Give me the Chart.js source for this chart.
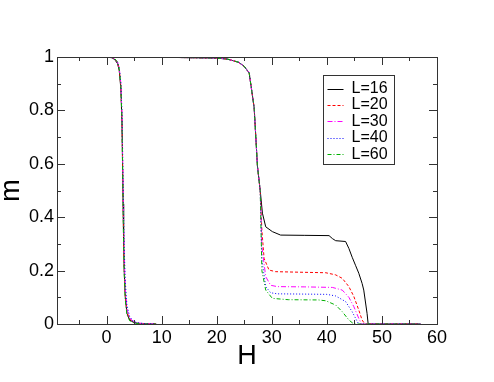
<!DOCTYPE html>
<html lang="en">
<head>
<meta charset="utf-8">
<title>m vs H</title>
<script src="https://cdn.jsdelivr.net/npm/chart.js@4.4.1/dist/chart.umd.min.js"></script>
<style>
body { margin: 0; background: #fff; }
</style>
</head>
<body>
<canvas id="chart" width="494" height="382"></canvas>
<script>
// ticks
const xTickValues = [0, 10, 20, 30, 40, 50, 60];
const xMinorValues = [-5, 5, 15, 25, 35, 45, 55];
const yTickValues = [0, 0.2, 0.4, 0.6, 0.8, 1];
const yMinorValues = [0.1, 0.3, 0.5, 0.7, 0.9];

// first drop (near H = 3)
const hDrop = [0, 1, 1.5, 2, 2.3, 2.6, 2.8, 2.9, 3.0, 3.1, 3.2, 3.4, 3.7, 4.2, 5, 6, 7.5, 9];
const mDrop16 = [1, 0.997, 0.99, 0.975, 0.95, 0.88, 0.75, 0.6, 0.45, 0.3, 0.2, 0.1, 0.04, 0.015, 0.005, 0.002, 0, 0];
const mDrop20 = [1, 0.998, 0.992, 0.978, 0.955, 0.89, 0.76, 0.62, 0.47, 0.32, 0.21, 0.11, 0.045, 0.018, 0.006, 0.002, 0.001, 0];
const mDrop30 = [1, 0.998, 0.993, 0.98, 0.96, 0.9, 0.78, 0.65, 0.5, 0.36, 0.25, 0.13, 0.055, 0.022, 0.007, 0.003, 0.001, 0];
const mDrop40 = [1, 0.998, 0.993, 0.98, 0.96, 0.9, 0.79, 0.67, 0.53, 0.4, 0.29, 0.16, 0.07, 0.027, 0.008, 0.003, 0.001, 0];
const mDrop60 = [1, 0.999, 0.994, 0.98, 0.955, 0.89, 0.76, 0.6, 0.44, 0.29, 0.19, 0.09, 0.035, 0.012, 0.004, 0.001, 0, 0];

// second branch (drop near H = 27, plateau, drop near H = 45)
const h16 = [0.5, 10, 20, 22, 24, 25, 25.9, 26.8, 27.4, 27.9, 28.3, 28.9, 30.1, 31.6, 36, 40.4, 41, 41.6, 43.4, 44, 44.6, 45.2, 45.8, 46.4, 46.7, 47.3, 47.5, 57];
const m16 = [1, 0.999, 0.996, 0.992, 0.98, 0.965, 0.94, 0.81, 0.59, 0.5, 0.415, 0.364, 0.346, 0.333, 0.332, 0.331, 0.32, 0.312, 0.309, 0.283, 0.25, 0.22, 0.19, 0.152, 0.127, 0.04, 0, 0];
const h20 = [0.5, 10, 20, 22, 24, 25, 25.9, 26.8, 27.4, 27.9, 28.2, 28.6, 29.5, 30.7, 35, 39.8, 41.6, 42.8, 44, 44.9, 45.8, 46.4, 46.9, 57];
const m20 = [1, 0.999, 0.996, 0.992, 0.98, 0.965, 0.94, 0.81, 0.59, 0.5, 0.352, 0.246, 0.202, 0.196, 0.194, 0.192, 0.184, 0.171, 0.14, 0.103, 0.052, 0.015, 0, 0];
const h30 = [0.5, 10, 20, 22, 24, 25, 25.9, 26.8, 27.4, 27.9, 28.2, 28.9, 29.8, 31, 36, 41, 42.8, 44, 44.9, 45.8, 46.3, 57];
const m30 = [1, 0.999, 0.996, 0.992, 0.98, 0.965, 0.94, 0.81, 0.59, 0.5, 0.29, 0.177, 0.145, 0.14, 0.139, 0.137, 0.127, 0.1, 0.065, 0.021, 0, 0];
const h40 = [0.5, 10, 20, 22, 24, 25, 25.9, 26.8, 27.4, 27.9, 28.2, 28.9, 29.8, 31, 36, 40, 41.6, 43.4, 44.6, 45.5, 45.8, 57];
const m40 = [1, 0.999, 0.996, 0.992, 0.98, 0.965, 0.94, 0.81, 0.59, 0.5, 0.24, 0.14, 0.117, 0.113, 0.112, 0.111, 0.105, 0.084, 0.046, 0.01, 0, 0];
const h60 = [0.5, 10, 20, 22, 24, 25, 25.9, 26.8, 27.4, 27.9, 28.2, 28.9, 30.1, 33, 38.5, 39.8, 41.6, 42.8, 44, 44.9, 57];
const m60 = [1, 0.999, 0.996, 0.992, 0.98, 0.965, 0.94, 0.81, 0.59, 0.5, 0.2, 0.127, 0.096, 0.091, 0.09, 0.087, 0.071, 0.046, 0.015, 0, 0];

const labels = ['L=16', 'L=20', 'L=30', 'L=40', 'L=60'];
const colors = ['#000000', '#ff0000', '#ff00ff', '#0000ff', '#00b000'];
const dashes = [[], [3, 2], [5, 2, 1, 2], [1, 2], [4, 2, 1, 2]];

function series(mA, hB, mB) {
	var pts = hDrop.map((h, i) => ({x: h, y: mA[i]}));
	pts.push({x: 9.5, y: null}); // break between the two branches
	return pts.concat(hB.map((h, i) => ({x: h, y: mB[i]})));
}

const seriesData = [
	series(mDrop16, h16, m16),
	series(mDrop20, h20, m20),
	series(mDrop30, h30, m30),
	series(mDrop40, h40, m40),
	series(mDrop60, h60, m60)
];

Chart.defaults.font.family = "'Liberation Sans', Arial, sans-serif";
Chart.defaults.color = '#000';

const frameAndTicks = {
	id: 'frameAndTicks',
	afterDraw(chart) {
		const ctx = chart.ctx;
		const a = chart.chartArea;
		const xs = chart.scales.x, ys = chart.scales.y;
		ctx.save();
		ctx.strokeStyle = '#333';
		ctx.lineWidth = 1;
		ctx.beginPath();
		function tx(v, len) {
			const p = Math.round(xs.getPixelForValue(v)) + 0.5;
			ctx.moveTo(p, a.bottom); ctx.lineTo(p, a.bottom - len);
			ctx.moveTo(p, a.top); ctx.lineTo(p, a.top + len);
		}
		function ty(v, len) {
			const p = Math.round(ys.getPixelForValue(v)) + 0.5;
			ctx.moveTo(a.left, p); ctx.lineTo(a.left + len, p);
			ctx.moveTo(a.right, p); ctx.lineTo(a.right - len, p);
		}
		xTickValues.forEach(v => tx(v, 8));
		xMinorValues.forEach(v => tx(v, 4));
		yTickValues.forEach(v => ty(v, 8));
		yMinorValues.forEach(v => ty(v, 4));
		ctx.stroke();
		ctx.strokeRect(Math.round(a.left) + 0.5, Math.round(a.top) + 0.5,
			Math.round(a.right - a.left), Math.round(a.bottom - a.top));

		// legend box
		const bx = Math.round(a.right) - 114 + 0.5, by = Math.round(a.top) + 18 + 0.5;
		ctx.strokeRect(bx, by, 71, 89);
		ctx.font = "16px 'Liberation Sans', Arial, sans-serif";
		ctx.textBaseline = 'middle';
		ctx.fillStyle = '#000';
		chart.data.datasets.forEach((ds, i) => {
			const y = by + 13 + i * 16.4;
			ctx.save();
			ctx.strokeStyle = ds.borderColor;
			ctx.setLineDash(ds.borderDash);
			ctx.beginPath();
			ctx.moveTo(bx + 4, Math.round(y) + 0.5);
			ctx.lineTo(bx + 20, Math.round(y) + 0.5);
			ctx.stroke();
			ctx.restore();
			ctx.fillText(ds.label, bx + 28, y);
		});
		ctx.restore();
	}
};

const chart = new Chart(document.getElementById('chart'), {
	type: 'line',
	data: {
		datasets: labels.map((l, i) => ({
			label: l,
			data: seriesData[i],
			borderColor: colors[i],
			borderDash: dashes[i],
			borderWidth: 1,
			pointRadius: 0,
			fill: false,
			tension: 0,
			spanGaps: false,
			order: labels.length - 1 - i // later series drawn on top
		}))
	},
	options: {
		responsive: false,
		animation: false,
		layout: { padding: { top: 57, right: 57, left: 0, bottom: 0 } },
		plugins: { legend: { display: false }, tooltip: { enabled: false } },
		scales: {
			x: {
				type: 'linear', min: -9, max: 60,
				afterBuildTicks: s => { s.ticks = xTickValues.map(v => ({value: v})); },
				afterFit: s => { s.height = 58; },
				grid: { display: false, drawTicks: false },
				border: { display: false },
				ticks: { font: { size: 18 }, padding: 3, maxRotation: 0, callback: v => String(v) },
				title: { display: true, text: 'H', font: { size: 27, lineHeight: 1 }, padding: { top: 0, bottom: 11.5 } }
			},
			y: {
				type: 'linear', min: 0, max: 1,
				afterBuildTicks: s => { s.ticks = yTickValues.map(v => ({value: v})); },
				afterFit: s => { s.width = 57; },
				grid: { display: false, drawTicks: false },
				border: { display: false },
				ticks: { font: { size: 18 }, padding: 3, callback: v => String(v) },
				title: { display: true, text: 'm', font: { size: 27, lineHeight: 1 }, padding: { top: -2, bottom: 0 } }
			}
		}
	},
	plugins: [frameAndTicks]
});
</script>
</body>
</html>
